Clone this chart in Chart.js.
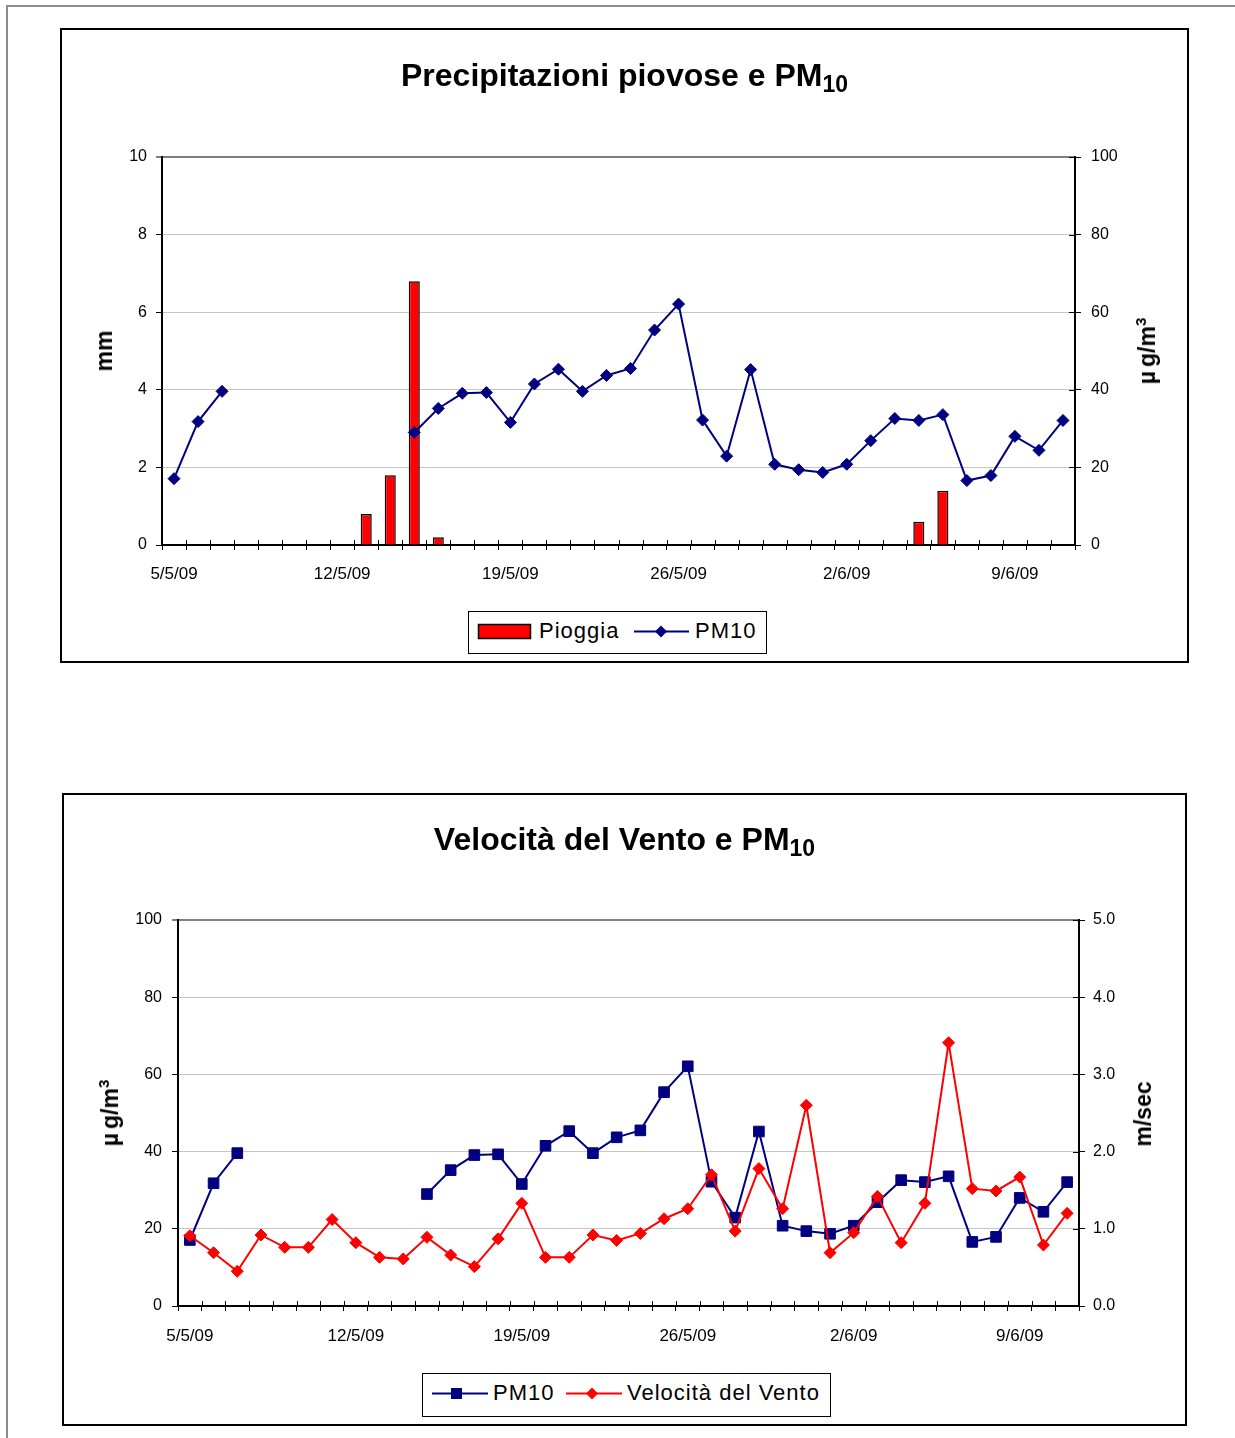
<!DOCTYPE html>
<html>
<head>
<meta charset="utf-8">
<script src="https://cdn.jsdelivr.net/npm/chart.js@4.4.1/dist/chart.umd.min.js"></script>
<style>
  html, body { margin: 0; padding: 0; background: #fff; }
  body { position: relative; width: 1235px; height: 1438px; overflow: hidden; font-family: 'Liberation Sans', Arial, sans-serif; color: #000; }
  .abs { position: absolute; }
  .box { position: absolute; box-sizing: border-box; border: 2px solid #000; }
  .title { position: absolute; left: 0; width: 1249px; text-align: center; font-weight: bold; font-size: 32px; line-height: 36px; white-space: nowrap; }
  .title sub { font-size: 23px; vertical-align: -6px; line-height: 0; }
  .rot { position: absolute; transform: translate(-50%, -50%) rotate(-90deg); white-space: nowrap; font-weight: bold; font-size: 23px; line-height: 26px; }
  .rot sup { font-size: 15px; vertical-align: 9px; line-height: 0; }
  .legend { position: absolute; box-sizing: border-box; border: 1px solid #000; background: #fff; }
  .ltxt { position: absolute; font-size: 22px; line-height: 26px; letter-spacing: 1px; white-space: nowrap; }
</style>
</head>
<body>
<!-- page frame lines -->
<div class="abs" style="left:7px; top:5px; width:1228px; height:2px; background:#8c8c8c;"></div>
<div class="abs" style="left:6px; top:5px; width:2px; height:1433px; background:#8c8c8c;"></div>

<!-- Chart 1: rainfall and PM10 -->
<div class="box" style="left:60px; top:28px; width:1129px; height:635px;"></div>
<div class="abs" style="left:62px; top:30px; width:1124px; height:630px;"><canvas id="c1"></canvas></div>
<div class="title" style="top:57px;">Precipitazioni piovose e PM<sub>10</sub></div>
<div class="rot" style="left:104px; top:351px;">mm</div>
<div class="rot" style="left:1147px; top:351px;"><span style="margin-right:4px">µ</span>g/m<sup>3</sup></div>
<div class="legend" style="left:468px; top:611px; width:299px; height:43px;"></div>
<svg class="abs" style="left:470px; top:613px;" width="230" height="40">
  <rect x="8.5" y="11.5" width="52" height="14" fill="#ff0000" stroke="#000" stroke-width="1.5"/>
  <line x1="164" y1="18.5" x2="219" y2="18.5" stroke="#000080" stroke-width="2"/>
  <polygon points="191,12.5 197,18.5 191,24.5 185,18.5" fill="#000080"/>
</svg>
<div class="ltxt" style="left:539px; top:618px;">Pioggia</div>
<div class="ltxt" style="left:695px; top:618px;">PM10</div>

<!-- Chart 2: wind speed and PM10 -->
<div class="box" style="left:62px; top:793px; width:1125px; height:633px;"></div>
<div class="abs" style="left:64px; top:795px; width:1120px; height:628px;"><canvas id="c2"></canvas></div>
<div class="title" style="top:821px;">Velocità del Vento e PM<sub>10</sub></div>
<div class="rot" style="left:110px; top:1113px;"><span style="margin-right:4px">µ</span>g/m<sup>3</sup></div>
<div class="rot" style="left:1143px; top:1114px;">m/sec</div>
<div class="legend" style="left:422px; top:1373px; width:409px; height:44px;"></div>
<svg class="abs" style="left:424px; top:1375px;" width="210" height="40">
  <line x1="8" y1="18.5" x2="64" y2="18.5" stroke="#000080" stroke-width="2"/>
  <rect x="27" y="13" width="11" height="11" fill="#000080"/>
  <line x1="142" y1="18.5" x2="198" y2="18.5" stroke="#ff0000" stroke-width="2"/>
  <polygon points="168,12.5 174,18.5 168,24.5 162,18.5" fill="#ff0000"/>
</svg>
<div class="ltxt" style="left:493px; top:1380px;">PM10</div>
<div class="ltxt" style="left:627px; top:1380px;">Velocità del Vento</div>

<script>
// Daily categories, 5 May - 11 June 2009
const dates = ['5/5/09','6/5/09','7/5/09','8/5/09','9/5/09','10/5/09','11/5/09','12/5/09','13/5/09','14/5/09',
  '15/5/09','16/5/09','17/5/09','18/5/09','19/5/09','20/5/09','21/5/09','22/5/09','23/5/09','24/5/09',
  '25/5/09','26/5/09','27/5/09','28/5/09','29/5/09','30/5/09','31/5/09','1/6/09','2/6/09','3/6/09',
  '4/6/09','5/6/09','6/6/09','7/6/09','8/6/09','9/6/09','10/6/09','11/6/09'];

// Rainfall (mm)
const pioggia = [0,0,0,0,0,0,0,0,0.8,1.8,
  6.8,0.2,0,0,0,0,0,0,0,0,
  0,0,0,0,0,0,0,0,0,0,
  0,0.6,1.4,0,0,0,0,0];

// PM10 (µg/m3), null where no measurement
const pm10 = [17.1,31.8,39.6,null,null,null,null,null,null,null,
  29.0,35.2,39.1,39.3,31.6,41.5,45.3,39.6,43.7,45.5,
  55.4,62.1,32.2,22.9,45.2,20.8,19.4,18.7,20.8,26.9,
  32.6,32.1,33.6,16.6,17.9,28.0,24.4,32.1];

// Wind speed (m/sec)
const vento = [0.91,0.69,0.45,0.92,0.76,0.76,1.12,0.82,0.63,0.61,
  0.89,0.66,0.51,0.87,1.33,0.63,0.63,0.92,0.85,0.94,
  1.13,1.26,1.70,0.97,1.78,1.26,2.60,0.69,0.95,1.42,
  0.82,1.33,3.41,1.52,1.49,1.67,0.79,1.20];

// Axis ranges
const mmMax = 10, mmStep = 2;
const pmMax = 100, pmStep = 20;
const ventoMax = 5, ventoStep = 1;
const labelEvery = 7;

Chart.defaults.font.family = "'Liberation Sans', Arial, sans-serif";
Chart.defaults.color = '#000';

// short tick marks that cross into the plot area (x axis and right axis)
const crossTicks = {
  id: 'crossTicks',
  afterDraw(chart, args, opts) {
    const { ctx, chartArea: a } = chart;
    const x = chart.scales.x;
    const n = x.getLabels().length;
    const step = x.getPixelForValue(1) - x.getPixelForValue(0);
    const x0 = x.getPixelForValue(0) - step / 2;
    ctx.save();
    ctx.strokeStyle = '#000';
    ctx.lineWidth = 1;
    ctx.beginPath();
    for (let i = 0; i <= n; i++) {
      const px = Math.round(x0 + i * step) + 0.5;
      ctx.moveTo(px, a.bottom);
      ctx.lineTo(px, a.bottom - opts.xLen);
    }
    const r = chart.scales[opts.right];
    r.ticks.forEach(t => {
      const py = Math.round(r.getPixelForValue(t.value)) + 0.5;
      ctx.moveTo(a.right, py);
      ctx.lineTo(a.right - opts.rLen, py);
    });
    ctx.stroke();
    ctx.restore();
  }
};

function xScale(height, pad) {
  return {
    type: 'category',
    offset: true,
    grid: { offset: true, drawOnChartArea: false, drawTicks: true, tickLength: 5, tickColor: '#000', tickWidth: 1 },
    border: { display: true, color: '#000', width: 2 },
    ticks: {
      autoSkip: false, maxRotation: 0, minRotation: 0, padding: pad,
      font: { size: 17 }, color: '#000',
      callback: (v, i) => (i % labelEvery === 0 ? dates[i] : '')
    },
    afterFit: s => { s.height = height; }
  };
}

function leftScale(max, step, width, pad, fmt) {
  return {
    position: 'left', min: 0, max: max,
    grid: {
      drawOnChartArea: true, drawTicks: true, tickLength: 6, tickColor: '#000', tickWidth: 1,
      color: c => (c.tick.value === max ? '#808080' : '#c6c6c6'),
      lineWidth: c => (c.tick.value === max ? 2 : 1)
    },
    border: { display: true, color: '#000', width: 2 },
    ticks: { stepSize: step, padding: pad, font: { size: 16 }, color: '#000', callback: fmt || (v => v) },
    afterFit: s => { s.width = width; }
  };
}

function rightScale(max, step, width, pad, fmt) {
  return {
    position: 'right', min: 0, max: max,
    grid: { drawOnChartArea: false, drawTicks: true, tickLength: 6, tickColor: '#000', tickWidth: 1 },
    border: { display: true, color: '#000', width: 2 },
    ticks: { stepSize: step, padding: pad, font: { size: 16 }, color: '#000', callback: fmt || (v => v) },
    afterFit: s => { s.width = width; }
  };
}

const common = {
  responsive: false,
  animation: false,
  events: [],
  plugins: { legend: { display: false }, tooltip: { enabled: false }, title: { display: false } }
};

function sizeCanvas(id, w, h) {
  const c = document.getElementById(id);
  c.width = w; c.height = h;
  c.style.width = w + 'px'; c.style.height = h + 'px';
  return c;
}

// Chart 1: rainfall bars + PM10 line
new Chart(sizeCanvas('c1', 1124, 630), {
  type: 'bar',
  data: {
    labels: dates,
    datasets: [
      {
        type: 'line', label: 'PM10', data: pm10, yAxisID: 'y1', order: 0,
        borderColor: '#000080', backgroundColor: '#000080', borderWidth: 2, tension: 0, spanGaps: false,
        pointStyle: 'rectRot', pointRadius: 6, pointBorderWidth: 1, pointBackgroundColor: '#000080', pointBorderColor: '#000080'
      },
      {
        type: 'bar', label: 'Pioggia', data: pioggia, yAxisID: 'y', order: 1,
        backgroundColor: '#ff0000', borderColor: '#000', borderWidth: 1.5, borderSkipped: 'bottom',
        barPercentage: 0.46, categoryPercentage: 1.0
      }
    ]
  },
  options: Object.assign({}, common, {
    layout: { padding: { top: 127, left: 0, right: 0, bottom: 0 } },
    scales: {
      x: xScale(115, 14),
      y: leftScale(mmMax, mmStep, 100, 9),
      y1: rightScale(pmMax, pmStep, 111, 10)
    },
    plugins: Object.assign({}, common.plugins, { crossTicks: { xLen: 5, rLen: 6, right: 'y1' } })
  }),
  plugins: [crossTicks]
});

// Chart 2: PM10 + wind speed lines
new Chart(sizeCanvas('c2', 1120, 628), {
  type: 'line',
  data: {
    labels: dates,
    datasets: [
      {
        label: 'PM10', data: pm10, yAxisID: 'y', order: 1,
        borderColor: '#000080', backgroundColor: '#000080', borderWidth: 2, tension: 0, spanGaps: false,
        pointStyle: 'rect', pointRadius: 7.5, pointBorderWidth: 1, pointBackgroundColor: '#000080', pointBorderColor: '#000080'
      },
      {
        label: 'Velocità del Vento', data: vento, yAxisID: 'y1', order: 0,
        borderColor: '#ff0000', backgroundColor: '#ff0000', borderWidth: 2, tension: 0,
        pointStyle: 'rectRot', pointRadius: 6, pointBorderWidth: 1, pointBackgroundColor: '#ff0000', pointBorderColor: '#ff0000'
      }
    ]
  },
  options: Object.assign({}, common, {
    layout: { padding: { top: 125, left: 0, right: 0, bottom: 0 } },
    scales: {
      x: xScale(117, 15),
      y: leftScale(pmMax, pmStep, 114, 10),
      y1: rightScale(ventoMax, ventoStep, 105, 8, v => Number(v).toFixed(1))
    },
    plugins: Object.assign({}, common.plugins, { crossTicks: { xLen: 5, rLen: 6, right: 'y1' } })
  }),
  plugins: [crossTicks]
});
</script>
</body>
</html>
